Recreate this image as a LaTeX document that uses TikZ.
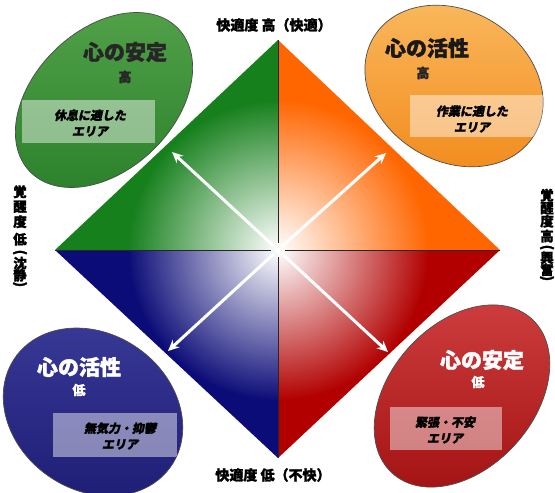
\documentclass[tikz,border=0pt]{standalone}
\usepackage{fontspec}
\newfontfamily\jp{Noto Sans CJK JP}[FakeBold=1.6]
\newfontfamily\jpi{Noto Sans CJK JP}[FakeSlant=0.2,FakeBold=1.6]
\usetikzlibrary{arrows.meta,fadings}
\definecolor{qgreen}{RGB}{22,128,28}
\definecolor{qorange}{RGB}{255,102,0}
\definecolor{qnavy}{RGB}{12,12,120}
\definecolor{qred}{RGB}{178,0,0}
\definecolor{egreenA}{RGB}{80,160,72}
\definecolor{egreenB}{RGB}{44,130,44}
\definecolor{eorangeA}{RGB}{250,185,95}
\definecolor{eorangeB}{RGB}{242,140,30}
\definecolor{enavyA}{RGB}{56,56,150}
\definecolor{enavyB}{RGB}{30,30,118}
\definecolor{eredA}{RGB}{205,60,60}
\definecolor{eredB}{RGB}{165,20,20}
\tikzfading[name=glow, inner color=transparent!0, outer color=transparent!100]
% one slot of a vertical label: height, content
\newcommand\vslot[2]{\hbox to 16pt{\hss\vbox to #1{\vss\hbox{#2}\vss}\hss}}
\newcommand\vopen{\rotatebox[origin=c]{-90}{(}}
\newcommand\vclose{\rotatebox[origin=c]{-90}{)}}
\tikzset{
  title/.style={font=\jp\bfseries\fontsize{21}{24}\selectfont, inner sep=0pt},
  sub/.style={font=\jp\bfseries\fontsize{13}{15}\selectfont, inner sep=0pt},
  boxtext/.style={font=\jpi\bfseries\fontsize{12}{16}\selectfont, align=center, inner sep=0pt},
  axislabel/.style={font=\jp\bfseries\fontsize{14}{16}\selectfont, inner sep=0pt},
  vaxis/.style={font=\jp\bfseries\fontsize{13.5}{15}\selectfont, inner sep=0pt, anchor=north},
  arr/.style={white, line width=3pt, -{Stealth[length=11pt,width=10pt]}, shorten <=6pt},
  crossline/.style={black!85, line width=0.8pt, shorten >=7pt},
  oval/.style={draw=black!70, line width=0.7pt},
  area/.style={fill=white, fill opacity=0.45},
}
\begin{document}
\begin{tikzpicture}[x=1pt,y=-1pt]
\useasboundingbox (0,0) rectangle (555,493);
\fill[white] (0,0) rectangle (555,493);
% diamond vertices
\coordinate (c) at (278,250);
\coordinate (T) at (278,40);
\coordinate (B) at (278,458);
\coordinate (L) at (55,250);
\coordinate (R) at (500,250);
% quadrants
\fill[qgreen] (c) -- (L) -- (T) -- cycle;
\fill[qorange] (c) -- (T) -- (R) -- cycle;
\fill[qnavy] (c) -- (L) -- (B) -- cycle;
\fill[qred] (c) -- (B) -- (R) -- cycle;
\begin{scope}
  \clip (T) -- (R) -- (B) -- (L) -- cycle;
  \fill[white, path fading=glow] (c) circle (150pt);
\end{scope}
\draw[crossline] (T) -- (c);
\draw[crossline] (B) -- (c);
\draw[crossline] (L) -- (c);
\draw[crossline] (R) -- (c);
% arrows
\coordinate (atl) at (172,152);
\coordinate (atr) at (386,153);
\coordinate (abl) at (168,351);
\coordinate (abr) at (388,352);
\draw[arr] (c) -- (atl);
\draw[arr] (c) -- (atr);
\draw[arr] (c) -- (abl);
\draw[arr] (c) -- (abr);
% ellipses
\coordinate (tlc) at (104,100);
\coordinate (trc) at (454,86);
\coordinate (blc) at (93,412);
\coordinate (brc) at (462,396);
\shade[oval, top color=egreenA, bottom color=egreenB, rotate around={44:(tlc)}] (tlc) ellipse [x radius=103pt, y radius=70pt];
\shade[oval, top color=eorangeA, bottom color=eorangeB, rotate around={-32:(trc)}] (trc) ellipse [x radius=94pt, y radius=75pt];
\shade[oval, top color=enavyA, bottom color=enavyB, rotate around={-35:(blc)}] (blc) ellipse [x radius=95pt, y radius=78pt];
\shade[oval, top color=eredA, bottom color=eredB, rotate around={48:(brc)}] (brc) ellipse [x radius=104pt, y radius=72pt];
% translucent boxes
\begin{scope}
  \clip[rotate around={44:(tlc)}] (tlc) ellipse [x radius=103pt, y radius=70pt];
  \fill[area] (22,100) rectangle (155,143);
\end{scope}
\begin{scope}
  \clip[rotate around={-32:(trc)}] (trc) ellipse [x radius=94pt, y radius=75pt];
  \fill[area] (410,95) rectangle (548,137);
\end{scope}
\begin{scope}
  \clip[rotate around={-35:(blc)}] (blc) ellipse [x radius=95pt, y radius=78pt];
  \fill[area] (53,413) rectangle (177,457);
\end{scope}
\begin{scope}
  \clip[rotate around={48:(brc)}] (brc) ellipse [x radius=104pt, y radius=72pt];
  \fill[area] (390,407) rectangle (502,450);
\end{scope}
% texts in ellipses
\node[title, black!85] (t1) at (125,52) {心の安定};
\node[sub, black!85] (s1) at (125,77) {高};
\node[boxtext] (b1) at (90,123) {休息に適した\\エリア};
\node[title, black!90] (t2) at (427,48) {心の活性};
\node[sub, black!85] (s2) at (423,73) {高};
\node[boxtext] (b2) at (472,119) {作業に適した\\エリア};
\node[title, white] (t3) at (79,367) {心の活性};
\node[sub, white] (s3) at (79,390) {低};
\node[boxtext] (b3) at (120,436) {無気力・抑鬱\\エリア};
\node[title, white] (t4) at (482,360) {心の安定};
\node[sub, white] (s4) at (478,382) {低};
\node[boxtext] (b4) at (445,430) {緊張・不安\\エリア};
% axis labels
\node[axislabel] (top) at (274,25) {快適度 高（快適）};
\node[axislabel] (bottom) at (273,475) {快適度 低（不快）};
\node[vaxis] (left) at (20,184) {\vbox{\offinterlineskip
  \vslot{15pt}{覚}\vslot{15pt}{醒}\vslot{15pt}{度}\vslot{20pt}{低}%
  \vslot{8pt}{\vopen}\vslot{12pt}{沈}\vslot{12pt}{静}\vslot{8pt}{\vclose}}};
\node[vaxis] (right) at (547,188.5) {\vbox{\offinterlineskip
  \vslot{13pt}{覚}\vslot{13pt}{醒}\vslot{13pt}{度}\vslot{17pt}{高}%
  \vslot{7pt}{\vopen}\vslot{12pt}{興}\vslot{12pt}{奮}\vslot{7pt}{\vclose}}};
\end{tikzpicture}
\end{document}
